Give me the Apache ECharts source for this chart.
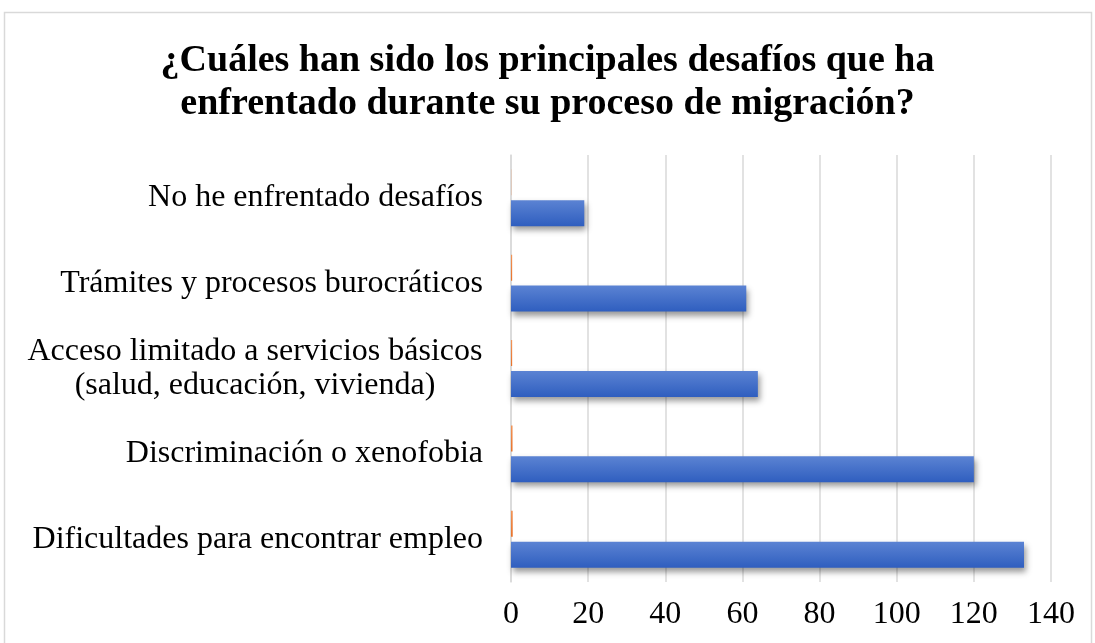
<!DOCTYPE html>
<html>
<head>
<meta charset="utf-8">
<script src="https://cdn.jsdelivr.net/npm/echarts@6/dist/echarts.min.js"></script>
<style>
  html, body { margin: 0; padding: 0; background: #fff; }
  #main { width: 1095px; height: 643px; }
</style>
</head>
<body>
<div id="main"></div>
<script>
// categorias (de abajo hacia arriba, como en el eje)
var categorias = [
    'Dificultades para encontrar empleo',
    'Discriminación o xenofobia',
    'Acceso limitado a servicios básicos\n(salud, educación, vivienda)',
    'Trámites y procesos burocráticos',
    'No he enfrentado desafíos'
];
var cantidad = [133, 120, 64, 61, 19];            // serie azul
var porcentaje = [0.45, 0.4, 0.3, 0.3, 0.05];     // serie naranja (casi cero)
var ticksX = [0, 20, 40, 60, 80, 100, 120, 140];

var myChart = echarts.init(document.getElementById('main'));
var serif = '"Liberation Serif", "DejaVu Serif", serif';
var labelSize = 32;

// ancho del bloque de etiquetas de dos lineas (para centrar las lineas)
var cv = document.createElement('canvas').getContext('2d');
cv.font = labelSize + 'px ' + serif;
function anchoBloque(txt) {
    var w = 0;
    txt.split('\n').forEach(function (l) {
        w = Math.max(w, cv.measureText(l).width);
    });
    return Math.ceil(w) + 1;
}

var option = {
    animation: false,
    backgroundColor: '#fff',
    title: {
        text: '¿Cuáles han sido los principales desafíos que ha\nenfrentado durante su proceso de migración?',
        left: 'center',
        top: 35,
        textStyle: {
            fontFamily: serif,
            fontSize: 38,
            fontWeight: 'bold',
            color: '#000',
            lineHeight: 43
        }
    },
    graphic: [{
        type: 'rect',
        shape: { x: 4.5, y: 12.5, width: 1087, height: 640 },
        style: { fill: 'none', stroke: '#d9d9d9', lineWidth: 1.5 },
        silent: true
    }],
    grid: {
        left: 511,
        right: 44,
        top: 155,
        bottom: 61
    },
    xAxis: {
        type: 'value',
        min: ticksX[0],
        max: ticksX[ticksX.length - 1],
        interval: 20,
        axisLine: { show: false },
        axisTick: { show: false },
        axisLabel: {
            margin: 17,
            fontFamily: serif,
            fontSize: 32,
            color: '#000'
        },
        splitLine: { lineStyle: { color: '#d9d9d9', width: 1.5 } }
    },
    yAxis: {
        type: 'category',
        data: categorias,
        axisLine: { show: true, lineStyle: { color: '#d9d9d9', width: 1.5 } },
        axisTick: { show: false },
        axisLabel: {
            margin: 28,
            fontFamily: serif,
            fontSize: labelSize,
            lineHeight: 34,
            color: '#000',
            formatter: function (val) {
                if (val.indexOf('\n') < 0) return val;
                return val.split('\n').map(function (l) {
                    return '{c|' + l + '}';
                }).join('\n');
            },
            rich: {
                c: {
                    width: anchoBloque(categorias[2]),
                    align: 'center',
                    fontFamily: serif,
                    fontSize: labelSize,
                    lineHeight: 34,
                    color: '#000'
                }
            }
        }
    },
    series: [{
        name: 'Porcentaje',
        type: 'bar',
        data: porcentaje,
        barWidth: 26,
        barGap: '19%',
        z: 3,
        itemStyle: {
            color: new echarts.graphic.LinearGradient(0, 0, 0, 1, [
                { offset: 0, color: '#f19458' },
                { offset: 1, color: '#e8722a' }
            ])
        }
    }, {
        name: 'Cantidad',
        type: 'bar',
        data: cantidad,
        barWidth: 26,
        barGap: '19%',
        itemStyle: {
            color: new echarts.graphic.LinearGradient(0, 0, 0, 1, [
                { offset: 0, color: '#5b83d3' },
                { offset: 1, color: '#2f5ebf' }
            ]),
            shadowColor: 'rgba(0,0,0,0.4)',
            shadowBlur: 6,
            shadowOffsetX: 2,
            shadowOffsetY: 4
        }
    }]
};
myChart.setOption(option);
</script>
</body>
</html>
